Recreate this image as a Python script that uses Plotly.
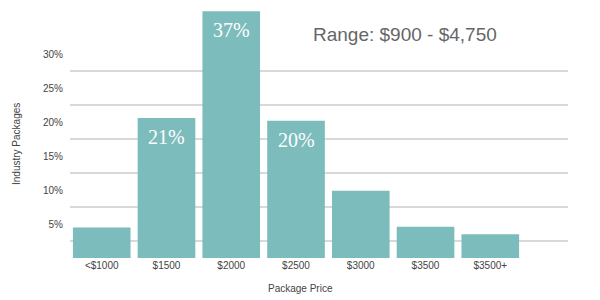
import plotly.graph_objects as go

categories = ["<$1000", "$1500", "$2000", "$2500", "$3000", "$3500", "$3500+"]
shares = [4.5, 20.6, 36.3, 20.2, 9.9, 4.6, 3.5]
bar_labels = ["", "21%", "37%", "20%", "", "", ""]
tick_vals = [5, 10, 15, 20, 25, 30]
tick_text = ["5%", "10%", "15%", "20%", "25%", "30%"]
grid_vals = [2.5, 7.5, 12.5, 17.5, 22.5, 27.5]
title_text = "Range: $900 - $4,750"

BAR = "#7dbcbc"
YMAX = 36.47

fig = go.Figure()
fig.add_trace(go.Bar(x=categories, y=shares, marker=dict(color=BAR, line=dict(width=0)),
                     hoverinfo="skip"))
# invisible trace to anchor secondary y axis (labels)
fig.add_trace(go.Scatter(x=[categories[0]], y=[0], yaxis="y2", mode="markers",
                         marker=dict(opacity=0), showlegend=False, hoverinfo="skip"))

annotations = []
for c, v, t in zip(categories, shares, bar_labels):
    if t:
        annotations.append(dict(x=c, y=v, xref="x", yref="y", text=t, showarrow=False,
                                yanchor="middle", yshift=-19,
                                font=dict(family="Liberation Serif", size=20, color="white")))
annotations.append(dict(x=(405 - 70) / 498, y=(258 - 34.5) / 248, xref="x domain", yref="y domain",
                        text=title_text, showarrow=False, xanchor="center", yanchor="middle",
                        font=dict(family="Liberation Sans", size=19, color="#666666")))
annotations.append(dict(x=(16 - 70) / 498, y=(258 - 144) / 248, xref="x domain", yref="y domain",
                        text="Industry Packages", textangle=-90, showarrow=False,
                        xanchor="center", yanchor="middle",
                        font=dict(family="Liberation Sans", size=10, color="#444444")))
annotations.append(dict(x=(300 - 70) / 498, y=(258 - 288.5) / 248, xref="x domain", yref="y domain",
                        text="Package Price", showarrow=False,
                        xanchor="center", yanchor="middle",
                        font=dict(family="Liberation Sans", size=10, color="#444444")))

fig.update_layout(
    width=600, height=300,
    margin=dict(l=70, r=32, t=10, b=42),
    paper_bgcolor="white", plot_bgcolor="white",
    showlegend=False,
    bargap=0.11,
    xaxis=dict(range=[-0.49, 7.2], showgrid=False, zeroline=False, showline=False,
               ticks="", tickfont=dict(family="Liberation Sans", size=10, color="#444444"),
               fixedrange=True),
    yaxis=dict(range=[0, YMAX], tickvals=grid_vals, showticklabels=False, showgrid=True,
               gridcolor="#d9d9d9", gridwidth=2, zeroline=False, showline=False, ticks=""),
    yaxis2=dict(range=[0, YMAX], overlaying="y", side="left", tickvals=tick_vals,
                ticktext=tick_text, showgrid=False, zeroline=False, showline=False, ticks="",
                ticklabelstandoff=6,
                tickfont=dict(family="Liberation Sans", size=10, color="#444444")),
    annotations=annotations,
)

fig.write_html("out.html")
